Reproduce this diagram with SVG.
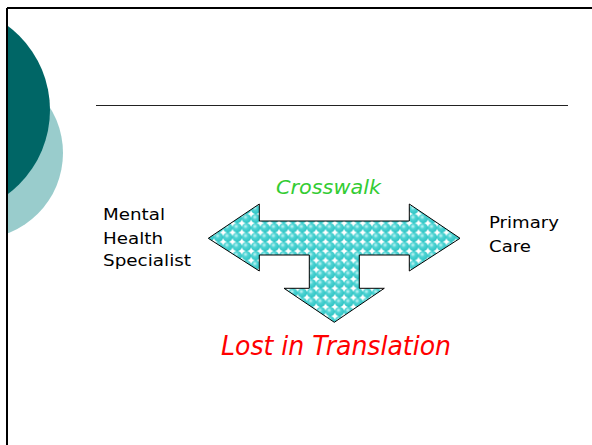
<svg xmlns="http://www.w3.org/2000/svg" width="592" height="445" viewBox="0 0 592 445">
  <style>
    .lbl { font-family: "DejaVu Sans", "Liberation Sans", sans-serif; font-size: 16.5px; fill: #000; }
    .ital { font-family: "DejaVu Sans", "Liberation Sans", sans-serif; font-style: italic; }
  </style>
  <defs>
    <clipPath id="pageClip"><rect x="7" y="8" width="585" height="437"/></clipPath>
    <radialGradient id="ball" cx="0.4" cy="0.35" r="0.65">
      <stop offset="0" stop-color="#c8f6f6"/>
      <stop offset="0.4" stop-color="#4fd3d3"/>
      <stop offset="1" stop-color="#2ec4c4"/>
    </radialGradient>
    <pattern id="balls" x="0" y="0" width="9.3" height="9.3" patternUnits="userSpaceOnUse">
      <rect width="9.3" height="9.3" fill="#ffffff"/>
      <circle cx="4.65" cy="4.65" r="4.7" fill="url(#ball)"/>
    </pattern>
  </defs>

  <rect width="592" height="445" fill="#ffffff"/>

  <g id="decor" clip-path="url(#pageClip)">
    <circle cx="-23" cy="153" r="86" fill="#99cccc"/>
    <circle cx="-55" cy="110" r="105" fill="#006666"/>
  </g>

  <g id="frame" fill="none" stroke="#000" stroke-width="2">
    <line x1="7" y1="8" x2="592" y2="8"/>
    <line x1="7" y1="8" x2="7" y2="445"/>
  </g>

  <line id="title-rule" x1="96" y1="105.5" x2="568" y2="105.5" stroke="#222" stroke-width="1"/>

  <g id="arrow">
    <path d="M208.3,238.3 L259.3,204 L259.3,221 L409.3,221 L409.3,204 L460,238.3 L409.3,271 L409.3,255 L359.3,255 L359.3,288.3 L384.3,288.3 L334.3,322.3 L284,288.3 L309.3,288.3 L309.3,255 L259.3,255 L259.3,271 Z" fill="url(#balls)" stroke="#000" stroke-width="1" stroke-linejoin="miter"/>
  </g>

  <g id="crosswalk">
    <text class="ital" x="276" y="194" font-size="20" fill="#33cc33" textLength="105" lengthAdjust="spacingAndGlyphs">Crosswalk</text>
  </g>

  <g id="lost">
    <text class="ital" x="221" y="355" font-size="27" fill="#ff0000" textLength="230" lengthAdjust="spacingAndGlyphs">Lost in Translation</text>
  </g>

  <g id="mental-health">
    <text class="lbl" x="103" y="220" textLength="62" lengthAdjust="spacingAndGlyphs">Mental</text>
    <text class="lbl" x="103" y="244" textLength="60" lengthAdjust="spacingAndGlyphs">Health</text>
    <text class="lbl" x="103" y="266" textLength="88" lengthAdjust="spacingAndGlyphs">Specialist</text>
  </g>

  <g id="primary-care">
    <text class="lbl" x="489" y="228" textLength="70" lengthAdjust="spacingAndGlyphs">Primary</text>
    <text class="lbl" x="489" y="252" textLength="42" lengthAdjust="spacingAndGlyphs">Care</text>
  </g>
</svg>
